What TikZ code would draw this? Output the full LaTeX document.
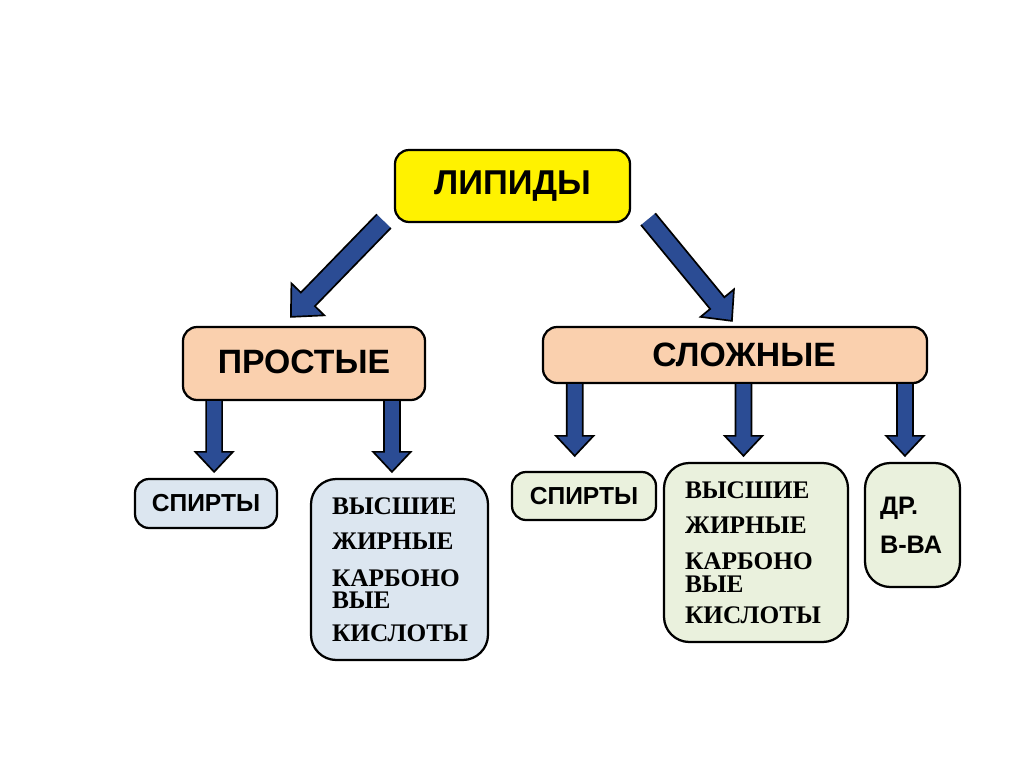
\documentclass[tikz,border=0pt]{standalone}
\usepackage{fontspec}
\setmainfont{Liberation Sans}
\newfontfamily\serifbold{Liberation Serif}
\usetikzlibrary{calc}

\definecolor{arrowblue}{HTML}{2B4C94}
\definecolor{peach}{HTML}{FAD0AE}
\definecolor{paleblue}{HTML}{DCE6F0}
\definecolor{palegreen}{HTML}{EAF1DD}

% block arrow from #2 to #3, tip pulled back by #4, sized by #1
\newcommand{\blockarrow}[4][1]{%
  \coordinate (ba-tip) at ($(#3)!#4!(#2)$);
  \coordinate (ba-base) at ($(ba-tip)!#1*0.5cm!(#2)$);
  \filldraw[fill=arrowblue, draw=black, line width=1.2pt, line join=miter]
    ($(#2)!#1*0.2cm!90:(ba-tip)$) -- ($(ba-base)!#1*0.2cm!90:(ba-tip)$)
    -- ($(ba-base)!#1*0.47cm!90:(ba-tip)$) -- (ba-tip)
    -- ($(ba-base)!#1*0.47cm!-90:(ba-tip)$) -- ($(ba-base)!#1*0.2cm!-90:(ba-tip)$)
    -- ($(#2)!#1*0.2cm!-90:(ba-tip)$);
}

\begin{document}
\begin{tikzpicture}[x=0.025cm, y=-0.025cm,
  box/.style={draw=black, line width=1.6pt, rounded corners=10pt, inner sep=0pt,
    font=\bfseries},
  bigbox/.style={box, rounded corners=18pt, align=left, font=\serifbold\bfseries}]
  \useasboundingbox (0,0) rectangle (1024,767);

  % Top level
  \node[box, fill=yellow, minimum width=235*0.025cm, minimum height=72*0.025cm,
    font=\fontsize{24.5}{28}\selectfont\bfseries] (lip) at (512.5,186) {ЛИПИДЫ};

  % Second level
  \node[box, fill=peach, minimum width=242*0.025cm, minimum height=73*0.025cm,
    font=\fontsize{24}{28}\selectfont\bfseries] (prost) at (304,363.5)
    {\raisebox{3pt}{ПРОСТЫЕ}};
  \node[box, fill=peach, minimum width=384*0.025cm, minimum height=56*0.025cm,
    font=\fontsize{24}{28}\selectfont\bfseries] (slozh) at (735,355)
    {\hspace*{13pt}СЛОЖНЫЕ};

  % Third level, simple lipids
  \node[box, fill=paleblue, minimum width=142*0.025cm, minimum height=49*0.025cm,
    font=\fontsize{17.5}{22}\selectfont\bfseries] (spirt1) at (206,503.5) {СПИРТЫ};
  \node[bigbox, fill=paleblue, minimum width=177*0.025cm, minimum height=181*0.025cm,
    text width=135*0.025cm] (vysh1) at (399.5,569.5)
    {\fontsize{18}{16}\selectfont ВЫСШИЕ\\[9pt]ЖИРНЫЕ\\[10pt]КАРБОНО\\ВЫЕ\\[11pt]КИСЛОТЫ};

  % Third level, complex lipids
  \node[box, fill=palegreen, minimum width=144*0.025cm, minimum height=48*0.025cm,
    font=\fontsize{17.5}{22}\selectfont\bfseries] (spirt2) at (584,496) {СПИРТЫ};
  \node[bigbox, fill=palegreen, minimum width=184*0.025cm, minimum height=179*0.025cm,
    text width=142*0.025cm] (vysh2) at (756,552.5)
    {\fontsize{18}{16}\selectfont ВЫСШИЕ\\[9pt]ЖИРНЫЕ\\[10pt]КАРБОНО\\ВЫЕ\\[10pt]КИСЛОТЫ};
  \node[bigbox, fill=palegreen, minimum width=95*0.025cm, minimum height=124*0.025cm,
    text width=65*0.025cm, font=\fontsize{18}{28}\selectfont\bfseries] (dr) at (912.5,525)
    {ДР.\\В-ВА\\[36pt]};

  % Arrows from the top
  \coordinate (l-out) at ($(lip.south west)+(-10,-2)$);
  \coordinate (p-in) at ($(prost.north west)+(109,-9)$);
  \coordinate (r-out) at ($(lip.south east)+(17,-4)$);
  \coordinate (s-in) at ($(slozh.north west)+(190,-5)$);
  \blockarrow[1.22]{l-out}{p-in}{0pt}
  \blockarrow[1.15]{r-out}{s-in}{0pt}

  % Arrows to the third level
  \foreach \s/\e/\f in {prost/spirt1/0.132, prost/vysh1/0.86} {
    \coordinate (st) at ($(\s.south west)!\f!(\s.south east)$);
    \coordinate (en) at (st |- \e.north);
    \blockarrow{st}{en}{0.15cm}
  }
  \foreach \e/\f in {spirt2/0.085, vysh2/0.522, dr/0.94} {
    \coordinate (st) at ($(slozh.south west)!\f!(slozh.south east)$);
    \coordinate (en) at ($(st |- vysh2.north)+(0,-6)$);
    \blockarrow{st}{en}{0pt}
  }
\end{tikzpicture}
\end{document}
